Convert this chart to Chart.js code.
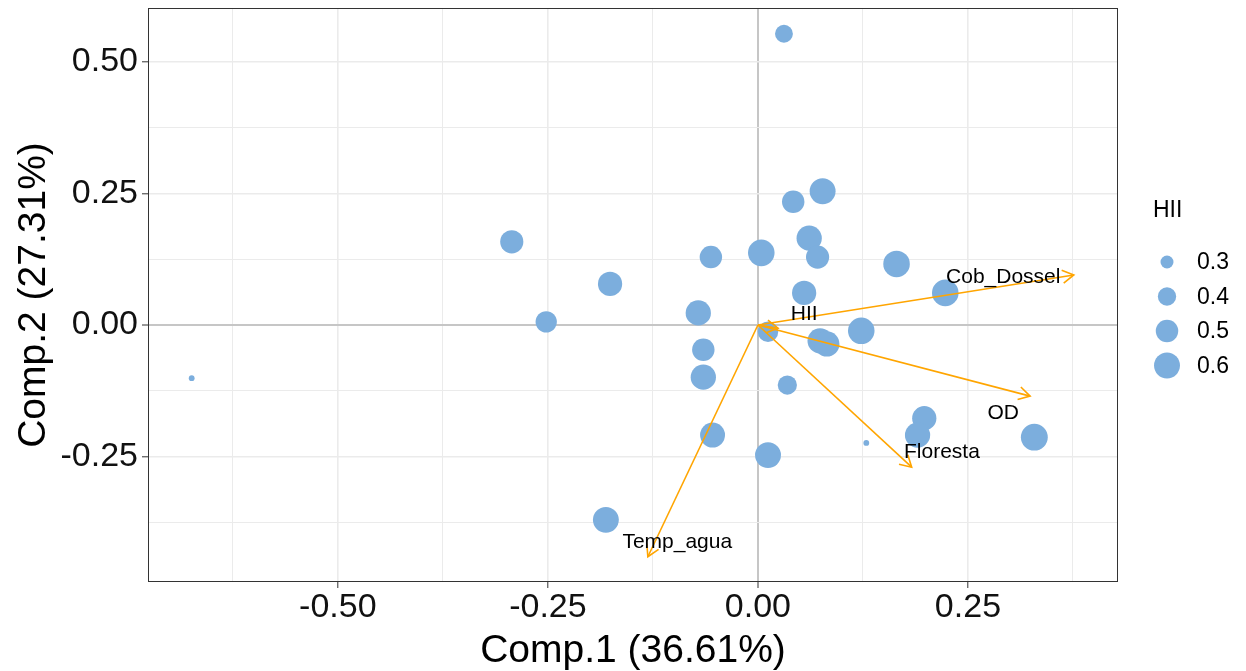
<!DOCTYPE html>
<html>
<head>
<meta charset="utf-8">
<script src="https://cdn.jsdelivr.net/npm/chart.js@4.4.1/dist/chart.umd.min.js"></script>
<style>
html,body{margin:0;padding:0;background:#fff;}
canvas{display:block;}
</style>
</head>
<body>
<canvas id="graficoPca" width="1246" height="671"></canvas>
<script>
// scores dos pontos (Comp.1, Comp.2) e HII
const comp1 = [0.031, 0.077, 0.042, 0.061, 0.071, 0.004, -0.056, -0.293, -0.176, -0.252,
  -0.674, -0.071, -0.065, -0.065, -0.054, 0.012, -0.181, 0.012, 0.035, 0.055,
  0.074, 0.082, 0.123, 0.165, 0.223, 0.198, 0.190, 0.329, 0.129];
const comp2 = [0.553, 0.254, 0.234, 0.165, 0.129, 0.137, 0.129, 0.158, 0.078, 0.006,
  -0.101, 0.023, -0.047, -0.099, -0.209, -0.247, -0.370, -0.013, -0.114, 0.061,
  -0.030, -0.036, -0.011, 0.116, 0.061, -0.177, -0.209, -0.213, -0.224];
const hii = [0.39, 0.60, 0.50, 0.58, 0.52, 0.62, 0.50, 0.52, 0.55, 0.47,
  0.22, 0.58, 0.50, 0.58, 0.57, 0.60, 0.60, 0.45, 0.42, 0.55,
  0.58, 0.58, 0.62, 0.62, 0.62, 0.55, 0.58, 0.63, 0.22];

// vetores das variaveis
const variaveis = ["Cob_Dossel", "OD", "Floresta", "Temp_agua", "HII"];
const vetorX = [0.376, 0.324, 0.183, -0.131, 0.024];
const vetorY = [0.095, -0.135, -0.270, -0.440, -0.006];
const rotuloX = [0.292, 0.292, 0.219, -0.096, 0.055];
const rotuloY = [0.091, -0.167, -0.241, -0.412, 0.021];

// eixos
const ticksX = [-0.5, -0.25, 0, 0.25];
const minorX = [-0.625, -0.375, -0.125, 0.125, 0.375];
const ticksY = [-0.25, 0, 0.25, 0.5];
const minorY = [-0.375, -0.125, 0.125, 0.375];
const legendaHii = [0.3, 0.4, 0.5, 0.6];

const corPonto = "#7CAEDD";
const corSeta = "#FFA500";
const fonte = "'Liberation Sans', Arial, sans-serif";

function raio(h) {
  return Math.sqrt(Math.max(4, 42 + 420 * (h - 0.3)));
}

function ehMaior(v, lista) {
  return lista.some(t => Math.abs(t - v) < 1e-9);
}

function corGrade(ctx) {
  const v = ctx.tick.value;
  if (Math.abs(v) < 1e-9) return "#C6C6C6";
  return "#EBEBEB";
}

const pontos = comp1.map((x, i) => ({ x: x, y: comp2[i] }));

const setas = variaveis.map((nome, i) => ({
  label: nome,
  data: [{ x: 0, y: 0 }, { x: vetorX[i], y: vetorY[i] }],
  showLine: true,
  borderColor: corSeta,
  borderWidth: 1.6,
  pointRadius: 0,
  pointHoverRadius: 0,
  order: 1
}));

const plugSetas = {
  id: "plugSetas",
  afterDatasetsDraw(chart) {
    const ctx = chart.ctx;
    const sx = chart.scales.x, sy = chart.scales.y;
    const ox = sx.getPixelForValue(0), oy = sy.getPixelForValue(0);
    ctx.save();
    ctx.strokeStyle = corSeta;
    ctx.lineWidth = 1.6;
    variaveis.forEach((nome, i) => {
      const tx = sx.getPixelForValue(vetorX[i]);
      const ty = sy.getPixelForValue(vetorY[i]);
      const ang = Math.atan2(ty - oy, tx - ox);
      const L = 13;
      ctx.beginPath();
      ctx.moveTo(tx - L * Math.cos(ang - Math.PI / 6), ty - L * Math.sin(ang - Math.PI / 6));
      ctx.lineTo(tx, ty);
      ctx.lineTo(tx - L * Math.cos(ang + Math.PI / 6), ty - L * Math.sin(ang + Math.PI / 6));
      ctx.stroke();
    });
    ctx.fillStyle = "#000";
    ctx.font = "21px " + fonte;
    ctx.textAlign = "center";
    ctx.textBaseline = "middle";
    variaveis.forEach((nome, i) => {
      ctx.fillText(nome, sx.getPixelForValue(rotuloX[i]), sy.getPixelForValue(rotuloY[i]));
    });
    ctx.restore();
  }
};

const plugMoldura = {
  id: "plugMoldura",
  afterDraw(chart) {
    const a = chart.chartArea;
    const ctx = chart.ctx;
    ctx.save();
    ctx.strokeStyle = "#333333";
    ctx.lineWidth = 1;
    ctx.strokeRect(a.left + 0.5, a.top + 0.5, a.right - a.left - 1, a.bottom - a.top - 1);

    // legenda de tamanho
    ctx.fillStyle = "#000";
    ctx.font = "23px " + fonte;
    ctx.textAlign = "left";
    ctx.textBaseline = "middle";
    ctx.fillText("HII", 1153, 211);
    legendaHii.forEach((h, i) => {
      const cy = 262 + i * 34.5;
      ctx.fillStyle = corPonto;
      ctx.beginPath();
      ctx.arc(1167, cy, raio(h), 0, Math.PI * 2);
      ctx.fill();
      ctx.fillStyle = "#000";
      ctx.fillText(h.toFixed(1), 1197, cy + 1);
    });
    ctx.restore();
  }
};

const semPadding = s => { s.paddingTop = 0; s.paddingBottom = 0; s.paddingLeft = 0; s.paddingRight = 0; };

const grafico = new Chart(document.querySelector("#graficoPca"), {
  type: "scatter",
  data: {
    datasets: [
      ...setas,
      {
        label: "pontos",
        data: pontos,
        backgroundColor: corPonto,
        borderWidth: 0,
        pointRadius: ctx => raio(hii[ctx.dataIndex]),
        pointHoverRadius: ctx => raio(hii[ctx.dataIndex]),
        order: 2
      }
    ]
  },
  options: {
    responsive: false,
    animation: false,
    devicePixelRatio: 1,
    layout: { autoPadding: false, padding: { top: 8, right: 128, left: 0, bottom: 0 } },
    plugins: { legend: { display: false }, tooltip: { enabled: false } },
    scales: {
      x: {
        type: "linear",
        min: -0.726,
        max: 0.4286,
        afterBuildTicks: s => { s.ticks = [...minorX, ...ticksX].sort((a, b) => a - b).map(v => ({ value: v })); },
        afterFit: s => { s.height = 89; semPadding(s); },
        border: { display: false },
        grid: {
          color: corGrade,
          lineWidth: ctx => Math.abs(ctx.tick.value) < 1e-9 ? 2 : (ehMaior(ctx.tick.value, ticksX) ? 1.6 : 1),
          tickColor: ctx => ehMaior(ctx.tick.value, ticksX) ? "#333333" : "rgba(0,0,0,0)",
          tickWidth: 1,
          tickLength: 6
        },
        ticks: {
          autoSkip: false,
          maxRotation: 0,
          padding: -1,
          color: "#111",
          font: { family: fonte, size: 34 },
          callback: v => ehMaior(v, ticksX) ? v.toFixed(2) : ""
        },
        title: {
          display: true,
          text: "Comp.1 (36.61%)",
          color: "#000",
          font: { family: fonte, size: 39, lineHeight: 1.0 },
          padding: { top: 0, bottom: 0 }
        }
      },
      y: {
        type: "linear",
        min: -0.488,
        max: 0.602,
        afterBuildTicks: s => { s.ticks = [...minorY, ...ticksY].sort((a, b) => a - b).map(v => ({ value: v })); },
        afterFit: s => { s.width = 148; semPadding(s); },
        border: { display: false },
        grid: {
          color: corGrade,
          lineWidth: ctx => Math.abs(ctx.tick.value) < 1e-9 ? 2 : (ehMaior(ctx.tick.value, ticksY) ? 1.6 : 1),
          tickColor: ctx => ehMaior(ctx.tick.value, ticksY) ? "#333333" : "rgba(0,0,0,0)",
          tickWidth: 1,
          tickLength: 6
        },
        ticks: {
          autoSkip: false,
          padding: 4,
          color: "#111",
          font: { family: fonte, size: 34 },
          callback: v => ehMaior(v, ticksY) ? v.toFixed(2) : ""
        },
        title: {
          display: true,
          text: "Comp.2 (27.31%)",
          color: "#000",
          font: { family: fonte, size: 39 },
          padding: { top: 11, bottom: 0 }
        }
      }
    }
  },
  plugins: [plugSetas, plugMoldura]
});
</script>
</body>
</html>
